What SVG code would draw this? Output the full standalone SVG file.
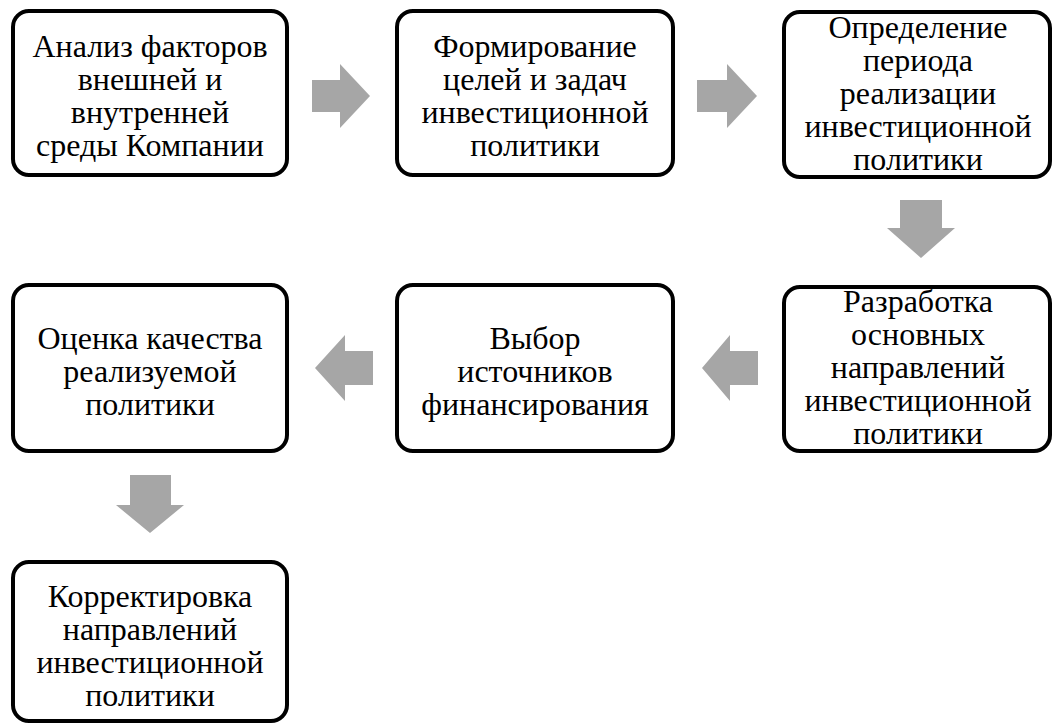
<svg xmlns="http://www.w3.org/2000/svg" width="1053" height="725" viewBox="0 0 1053 725">
<style>
.box{fill:#ffffff;stroke:#000000;stroke-width:4}
.arr{fill:#a6a6a6;stroke:none}
.t{font-family:'Times New Roman','Liberation Serif',Tinos,'Noto Serif','DejaVu Serif',FreeSerif,'PT Serif',serif;font-size:32px;fill:#000000;text-anchor:middle}
</style>
<rect width="1053" height="725" fill="#ffffff"/>
<g id="connectors">
<polygon class="arr" points="312,80 340,80 340,64 370,96 340,128 340,112 312,112"/>
<polygon class="arr" points="697,80 727,80 727,64 757,96 727,128 727,112 697,112"/>
<polygon class="arr" points="900,200 942,200 942,228 955,228 921,258 887,228 900,228"/>
<polygon class="arr" points="758,351 730,351 730,335 702,368 730,401 730,385 758,385"/>
<polygon class="arr" points="373,351 345,351 345,335 315,368 345,401 345,385 373,385"/>
<polygon class="arr" points="130,475 171,475 171,505 184,505 150,533 116,505 130,505"/>
</g>
<g id="n1">
<rect class="box" x="13" y="11" width="274" height="164" rx="16"/>
<text class="t"><tspan x="150" y="57">Анализ факторов</tspan><tspan x="150" y="90">внешней и</tspan><tspan x="150" y="123">внутренней</tspan><tspan x="150" y="156">среды Компании</tspan></text>
</g>
<g id="n2">
<rect class="box" x="397" y="11" width="276" height="164" rx="16"/>
<text class="t"><tspan x="535" y="57">Формирование</tspan><tspan x="535" y="90">целей и задач</tspan><tspan x="535" y="123">инвестиционной</tspan><tspan x="535" y="156">политики</tspan></text>
</g>
<g id="n3">
<rect class="box" x="784" y="12" width="266" height="165" rx="16"/>
<text class="t"><tspan x="918" y="38">Определение</tspan><tspan x="918" y="71">периода</tspan><tspan x="918" y="104">реализации</tspan><tspan x="918" y="137">инвестиционной</tspan><tspan x="918" y="170">политики</tspan></text>
</g>
<g id="n4">
<rect class="box" x="13" y="285" width="274" height="166" rx="16"/>
<text class="t"><tspan x="150" y="349">Оценка качества</tspan><tspan x="150" y="382">реализуемой</tspan><tspan x="150" y="415">политики</tspan></text>
</g>
<g id="n5">
<rect class="box" x="397" y="285" width="276" height="166" rx="16"/>
<text class="t"><tspan x="535" y="349">Выбор</tspan><tspan x="535" y="382">источников</tspan><tspan x="535" y="415">финансирования</tspan></text>
</g>
<g id="n6">
<rect class="box" x="784" y="287" width="266" height="164" rx="16"/>
<text class="t"><tspan x="918" y="312">Разработка</tspan><tspan x="918" y="345">основных</tspan><tspan x="918" y="378">направлений</tspan><tspan x="918" y="411">инвестиционной</tspan><tspan x="918" y="444">политики</tspan></text>
</g>
<g id="n7">
<rect class="box" x="13" y="562" width="274" height="159" rx="16"/>
<text class="t"><tspan x="150" y="607">Корректировка</tspan><tspan x="150" y="640">направлений</tspan><tspan x="150" y="673">инвестиционной</tspan><tspan x="150" y="706">политики</tspan></text>
</g>
</svg>
